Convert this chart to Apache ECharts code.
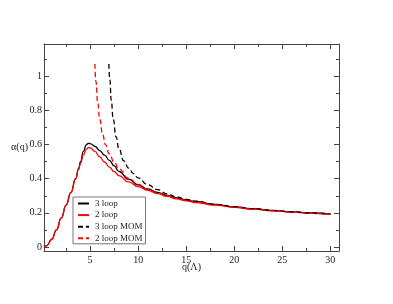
<!DOCTYPE html>
<html>
<head>
<meta charset="utf-8">
<script src="https://cdn.jsdelivr.net/npm/echarts@6/dist/echarts.min.js"></script>
<style>html,body{margin:0;padding:0;background:#fff}#c{width:393px;height:304px}</style>
</head>
<body>
<div id="c"></div>
<script>
const qSolid   = [0.2, 0.5, 1, 1.5, 2, 2.5, 3, 3.5, 3.8, 4, 4.3, 4.6, 4.8, 5, 5.5, 6, 6.5, 7, 7.5, 8, 9, 10, 11, 12, 13, 14, 15, 16, 18, 20, 22, 24, 26, 28, 30];
const alpha3   = [0, 0.008, 0.045, 0.1, 0.17, 0.245, 0.32, 0.40, 0.46, 0.50, 0.56, 0.598, 0.607, 0.606, 0.59, 0.565, 0.538, 0.508, 0.475, 0.443, 0.397, 0.364, 0.34, 0.32, 0.302, 0.288, 0.275, 0.265, 0.249, 0.235, 0.224, 0.214, 0.206, 0.199, 0.193];
const alpha2   = [0, 0.008, 0.045, 0.1, 0.17, 0.245, 0.32, 0.40, 0.455, 0.49, 0.54, 0.572, 0.582, 0.581, 0.56, 0.528, 0.498, 0.468, 0.442, 0.418, 0.381, 0.353, 0.332, 0.313, 0.296, 0.282, 0.27, 0.26, 0.245, 0.232, 0.221, 0.212, 0.204, 0.197, 0.191];
const qMom3    = [6.95, 7.05, 7.2, 7.4, 7.7, 8, 8.5, 9, 9.5, 10, 11, 12, 13, 14, 15, 16, 18, 20, 22, 24, 26, 28, 30];
const alphaMom3= [1.073, 0.98, 0.86, 0.75, 0.645, 0.575, 0.505, 0.462, 0.43, 0.405, 0.365, 0.336, 0.311, 0.293, 0.279, 0.268, 0.25, 0.236, 0.224, 0.214, 0.206, 0.199, 0.193];
const qMom2    = [5.5, 5.6, 5.8, 6, 6.3, 6.6, 7, 7.5, 8, 9, 10, 11, 12, 13, 14, 15, 16, 18, 20, 22, 24, 26, 28, 30];
const alphaMom2= [1.073, 0.97, 0.84, 0.75, 0.66, 0.60, 0.545, 0.497, 0.458, 0.402, 0.366, 0.338, 0.317, 0.3, 0.285, 0.273, 0.262, 0.246, 0.233, 0.222, 0.212, 0.204, 0.197, 0.191];
const xMajor = [5, 10, 15, 20, 25, 30];
const xMinor = [2.5, 7.5, 12.5, 17.5, 22.5, 27.5];
const yMajor = [0, 0.2, 0.4, 0.6, 0.8, 1];
const yMinor = [0.1, 0.3, 0.5, 0.7, 0.9, 1.1];
const names = ['3 loop', '2 loop', '3 loop MOM', '2 loop MOM'];

const font = 'Liberation Serif';
const axCol = '#444';
const XMIN = 0.2, XMAX = 30.9, YMIN = -0.024, YMAX = 1.19;

function zip(a, b) { return a.map((v, i) => [v, b[i]]); }

function xAx(pos, ticks, len, showLine, showLabel) {
  return {
    type: 'value', position: pos, min: XMIN, max: XMAX,
    axisLine: { show: showLine, onZero: false, lineStyle: { color: axCol, width: 1 } },
    axisTick: { show: true, inside: true, length: len, customValues: ticks, lineStyle: { color: axCol } },
    axisLabel: { show: showLabel, customValues: ticks, fontFamily: font, fontSize: 10, color: '#222', margin: 4 },
    splitLine: { show: false },
    name: showLabel ? 'q(Λ)' : '', nameLocation: 'middle', nameGap: 11, nameMoveOverlap: false,
    nameTextStyle: { fontFamily: font, fontSize: 10, color: '#222' }
  };
}
function yAx(pos, ticks, len, showLine, showLabel) {
  return {
    type: 'value', position: pos, min: YMIN, max: YMAX,
    axisLine: { show: showLine, onZero: false, lineStyle: { color: axCol, width: 1 } },
    axisTick: { show: true, inside: true, length: len, customValues: ticks, lineStyle: { color: axCol } },
    axisLabel: { show: showLabel, customValues: ticks, fontFamily: font, fontSize: 10, color: '#222', margin: 2 },
    splitLine: { show: false },
    name: showLabel ? 'α(q)' : '', nameLocation: 'middle', nameGap: 16, nameRotate: 0, nameMoveOverlap: false,
    nameTextStyle: { fontFamily: font, fontSize: 10, color: '#222', align: 'right' }
  };
}

const chart = echarts.init(document.getElementById('c'), null, { renderer: 'canvas' });
const lw = 1.3;
const common = { type: 'line', smooth: true, smoothMonotone: 'x', symbol: 'none', showSymbol: false };
chart.setOption({
  animation: false,
  backgroundColor: '#fff',
  grid: { left: 44, top: 44, right: 54, bottom: 53 },
  xAxis: [
    xAx('bottom', xMajor, 5, true, true),
    xAx('bottom', xMinor, 3, false, false),
    xAx('top', xMajor, 5, true, false),
    xAx('top', xMinor, 3, false, false)
  ],
  yAxis: [
    yAx('left', yMajor, 5, true, true),
    yAx('left', yMinor, 3, false, false),
    yAx('right', yMajor, 5, true, false),
    yAx('right', yMinor, 3, false, false)
  ],
  legend: {
    orient: 'vertical', left: 73, top: 197,
    data: names,
    itemWidth: 11, itemHeight: 8, itemGap: 2.6,
    padding: [2, 3, 1, 4],
    borderColor: '#777', borderWidth: 1,
    itemStyle: { opacity: 0 },
    textStyle: { fontFamily: font, fontSize: 9, color: '#222', lineHeight: 9, padding: [0, 0, 0, 1] }
  },
  series: [
    Object.assign({ name: names[0], data: zip(qSolid, alpha3),
      lineStyle: { color: '#000', width: lw }, itemStyle: { color: '#000' } }, common),
    Object.assign({ name: names[1], data: zip(qSolid, alpha2),
      lineStyle: { color: '#ff0000', width: lw }, itemStyle: { color: '#ff0000' } }, common),
    Object.assign({ name: names[2], data: zip(qMom3, alphaMom3),
      lineStyle: { color: '#000', width: lw, type: [5, 3] }, itemStyle: { color: '#000' } }, common),
    Object.assign({ name: names[3], data: zip(qMom2, alphaMom2),
      lineStyle: { color: '#ff0000', width: lw, type: [5, 3] }, itemStyle: { color: '#ff0000' } }, common)
  ]
});
</script>
</body>
</html>
